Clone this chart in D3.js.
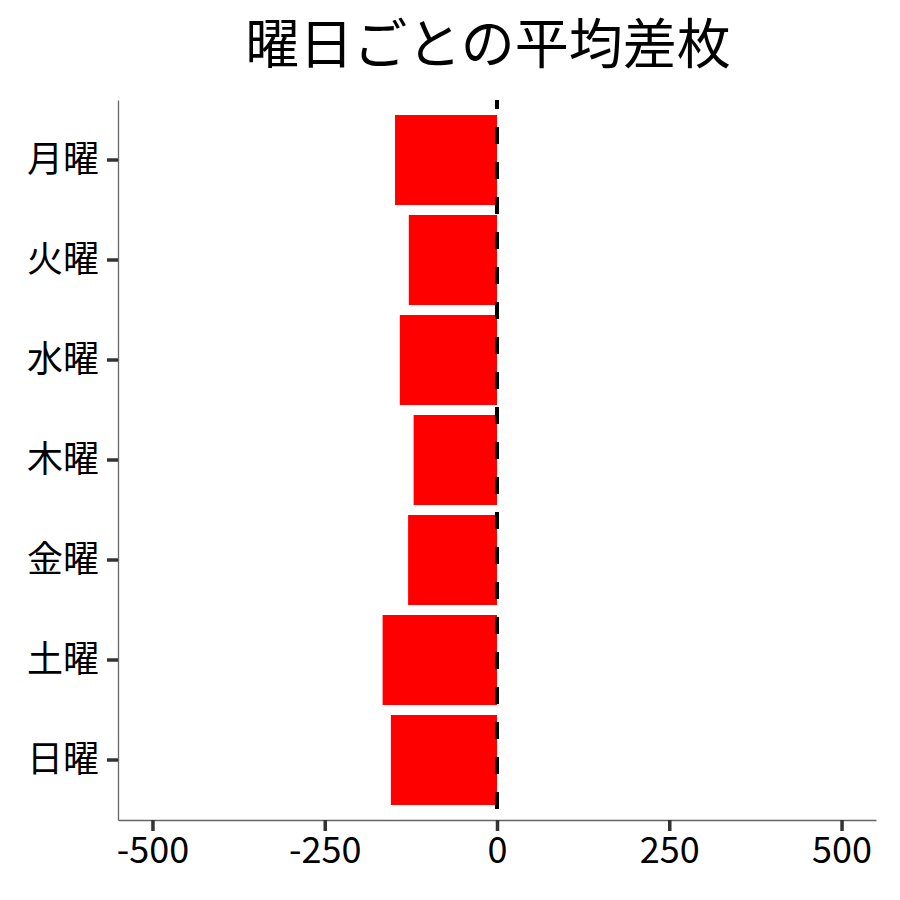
<!DOCTYPE html>
<html>
<head>
<meta charset="utf-8">
<script src="https://cdn.jsdelivr.net/npm/d3@7"></script>
<style>
    body { margin: 0; background: #fff; }
    text { font-family: "Noto Sans CJK JP", "Noto Sans", sans-serif; }
</style>
</head>
<body>
<div id="chart"></div>
<script>
// data
let days = ['月曜', '火曜', '水曜', '木曜', '金曜', '土曜', '日曜']
let avgDiff = [-148, -128, -141, -121, -129, -166, -154]
let xTicks = [-500, -250, 0, 250, 500]
let titleText = '曜日ごとの平均差枚'

let svgWidth = 900
let svgHeight = 900

let margin = {
    top: 100,
    right: 24,
    bottom: 80,
    left: 118
}

let chartWidth = svgWidth - margin.left - margin.right
let chartHeight = svgHeight - margin.top - margin.bottom

let svg = d3.select('#chart')
    .append('svg')
    .attr('width', svgWidth)
    .attr('height', svgHeight)

let chartGroup = svg.append('g')
    .attr('transform', `translate(${margin.left}, ${margin.top})`)

let rows = days.map((d, i) => ({ day: d, value: avgDiff[i] }))

let xScale = d3.scaleLinear()
    .domain([-550, 550])
    .range([0, chartWidth])

let yScale = d3.scaleBand()
    .domain(days)
    .range([0, chartHeight])
    .paddingInner(0.1)
    .paddingOuter(0.15)

// bars
chartGroup.selectAll('rect.bar')
    .data(rows)
    .enter()
    .append('rect')
    .classed('bar', true)
    .attr('x', d => xScale(Math.min(0, d.value)))
    .attr('y', d => yScale(d.day))
    .attr('width', d => Math.abs(xScale(d.value) - xScale(0)))
    .attr('height', yScale.bandwidth())
    .attr('fill', '#ff0000')

// dashed zero line
chartGroup.append('line')
    .attr('x1', xScale(0))
    .attr('x2', xScale(0))
    .attr('y1', 0)
    .attr('y2', chartHeight)
    .attr('stroke', '#000')
    .attr('stroke-width', 4)
    .attr('stroke-dasharray', '17,18')
    .attr('stroke-dashoffset', 8)

// axes (plain hyphen for negatives, like the original)
let bottomAxis = d3.axisBottom(xScale)
    .tickValues(xTicks)
    .tickFormat(d => String(d))
    .tickSize(11)
    .tickPadding(6)
    .tickSizeOuter(0)

let leftAxis = d3.axisLeft(yScale)
    .tickSize(11)
    .tickPadding(8)
    .tickSizeOuter(0)

let xAxis = chartGroup.append('g')
    .attr('transform', `translate(0, ${chartHeight})`)
    .call(bottomAxis)

let yAxis = chartGroup.append('g')
    .call(leftAxis)

;[xAxis, yAxis].forEach(axis => {
    axis.select('.domain')
        .attr('stroke', '#666')
        .attr('stroke-width', 1.3)
    axis.selectAll('.tick line')
        .attr('stroke', '#333')
        .attr('stroke-width', 3.5)
    axis.selectAll('.tick text')
        .attr('fill', '#000')
        .attr('font-size', 36)
        .style('font-family', '"Noto Sans CJK JP", "Noto Sans", sans-serif')
})

xAxis.selectAll('.tick text')
    .attr('dy', '0.71em')

// title
svg.append('text')
    .attr('x', margin.left + chartWidth / 2 - 9)
    .attr('y', 64)
    .attr('text-anchor', 'middle')
    .attr('font-size', 54)
    .attr('fill', '#000')
    .text(titleText)
</script>
</body>
</html>
